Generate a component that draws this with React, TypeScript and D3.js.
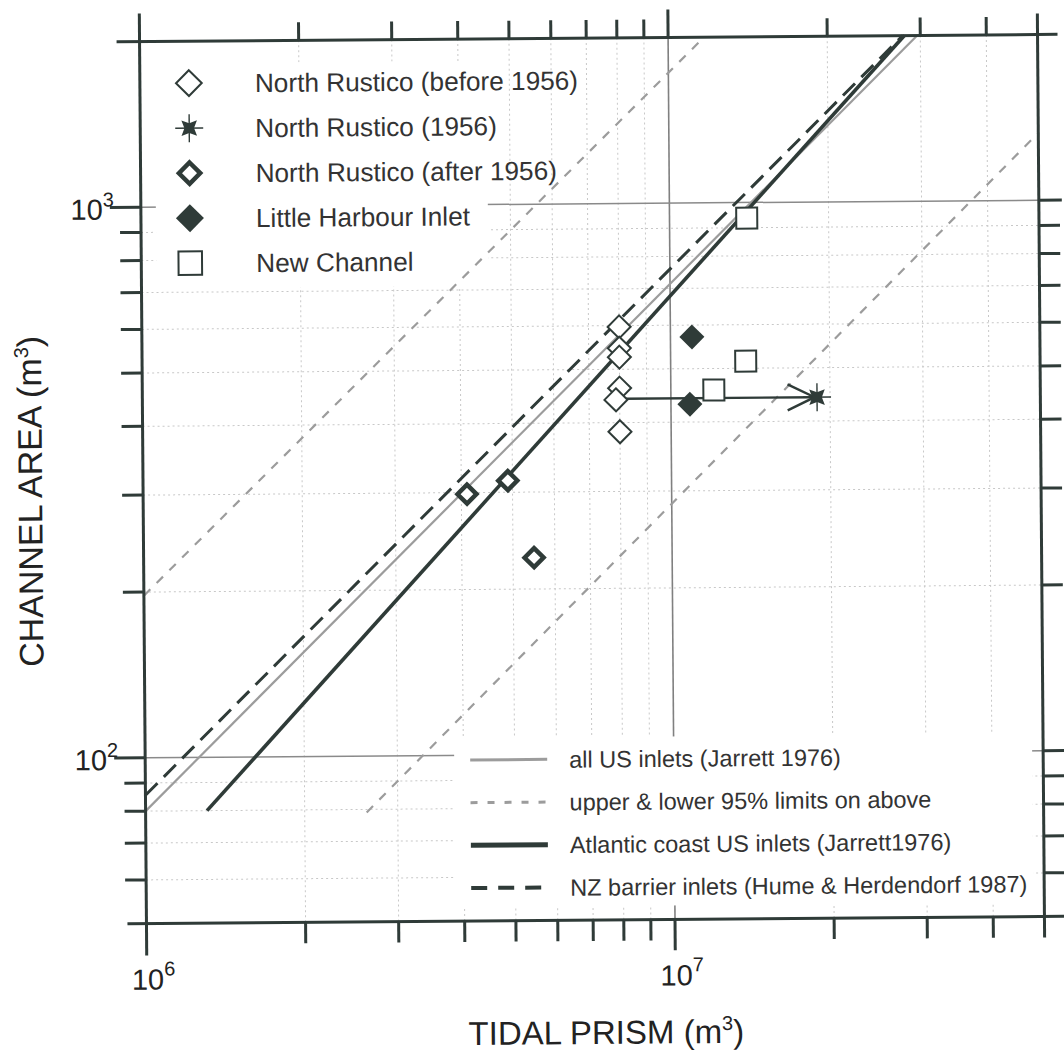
import React from 'react';
import * as d3 from 'd3';

// ---- data (tidal prism m3, channel area m2) ----
const beforeP = [8.0e6, 8.0e6, 8.0e6, 8.0e6, 7.87e6, 8.0e6];
const beforeA = [597, 546, 526, 462, 440, 385];
const in1956P = [1.89e7];
const in1956A = [442];
const afterP = [4.1e6, 4.9e6, 5.48e6];
const afterA = [298, 315, 228];
const littleP = [1.098e7, 1.086e7];
const littleA = [571, 431];
const newChP = [1.4e7, 1.387e7, 1.206e7];
const newChA = [937, 515, 457];
const arrowP = [8.18e6, 1.87e7];
const arrowA = [442, 442];

// fitted relations, end points as drawn
const allUSP = [1e6, 2.96e7];
const allUSA = [80, 2000];
const upperP = [1e6, 1.17e7];
const upperA = [197, 2000];
const lowerP = [2.62e6, 5e7];
const lowerA = [79, 1325];
const atlP = [1.307e6, 2.8e7];
const atlA = [80, 2000];
const nzP = [1e6, 2.78e7];
const nzA = [85.5, 2000];

// axes
const xMajorTicks = [1e6, 1e7];
const xTickExp = ['6', '7'];
const xMinorTicks = [2e6, 3e6, 4e6, 5e6, 6e6, 7e6, 8e6, 9e6, 2e7, 3e7, 4e7];
const yMajorTicks = [1e2, 1e3];
const yTickExp = ['2', '3'];
const yMinorTicks = [60, 70, 80, 90, 200, 300, 400, 500, 600, 700, 800, 900];

const markerNames = [
  'North Rustico (before 1956)',
  'North Rustico (1956)',
  'North Rustico (after 1956)',
  'Little Harbour Inlet',
  'New Channel',
];
const lineNames = [
  'all US inlets (Jarrett 1976)',
  'upper & lower 95% limits on above',
  'Atlantic coast US inlets (Jarrett1976)',
  'NZ barrier inlets (Hume & Herdendorf 1987)',
];

const W = 1064;
const H = 1063;
const frame = { left: 143, right: 1041, top: 38, bottom: 920 };
const DARK = '#2f3b38';
const GRAY = '#9c9c9c';
const FONT = '"Liberation Sans", Arial, Helvetica, sans-serif';

const diamond = (r: number) => `M0,${-r}L${r},0L0,${r}L${-r},0Z`;

// filled four point star with a thin cross through it
const Star = ({ cx, cy }: { cx: number; cy: number }) => {
  const pts: string[] = [];
  for (let i = 0; i < 8; i++) {
    const a = Math.PI / 4 + (i * Math.PI) / 4;
    const r = i % 2 === 0 ? 11 : 4.8;
    pts.push(`${cx + r * Math.cos(a)},${cy + r * Math.sin(a)}`);
  }
  return (
    <g>
      <line x1={cx - 14} x2={cx + 14} y1={cy} y2={cy} stroke={DARK} strokeWidth={1.4} />
      <line x1={cx} x2={cx} y1={cy - 14} y2={cy + 14} stroke={DARK} strokeWidth={1.4} />
      <polygon points={pts.join(' ')} fill={DARK} />
    </g>
  );
};

const Marker = ({ kind, cx, cy, big }: { kind: number; cx: number; cy: number; big?: boolean }) => {
  const s = big ? 1.12 : 1;
  if (kind === 0)
    return <path d={diamond(11.5 * s)} transform={`translate(${cx},${cy})`} fill="white" stroke={DARK} strokeWidth={2} />;
  if (kind === 1) return <Star cx={cx} cy={cy} />;
  if (kind === 2)
    return <path d={diamond(9.5 * s)} transform={`translate(${cx},${cy})`} fill="white" stroke={DARK} strokeWidth={4.5} />;
  if (kind === 3)
    return <path d={diamond(12.5 * s)} transform={`translate(${cx},${cy})`} fill={DARK} stroke="none" />;
  const h = 10.5 * s;
  return <rect x={cx - h} y={cy - h} width={2 * h} height={2 * h} fill="white" stroke={DARK} strokeWidth={2} />;
};

export default function App() {
  const x = d3.scaleLog().domain([1e6, 5e7]).range([frame.left, frame.right]);
  const y = d3.scaleLog().domain([50, 2000]).range([frame.bottom, frame.top]);
  const line = (ps: number[], as: number[]) =>
    d3.line<number>().x((d) => x(ps[d])).y((d) => y(as[d]))(ps.map((_, i) => i)) || '';

  const series = [
    { kind: 0, P: beforeP, A: beforeA },
    { kind: 2, P: afterP, A: afterA },
    { kind: 3, P: littleP, A: littleA },
    { kind: 4, P: newChP, A: newChA },
    { kind: 1, P: in1956P, A: in1956A },
  ];

  const fits = [
    { P: allUSP, A: allUSA, stroke: GRAY, w: 2.2, dash: undefined as string | undefined },
    { P: upperP, A: upperA, stroke: GRAY, w: 2.2, dash: '9 9' },
    { P: lowerP, A: lowerA, stroke: GRAY, w: 2.2, dash: '9 9' },
    { P: nzP, A: nzA, stroke: DARK, w: 3, dash: '17 9' },
    { P: atlP, A: atlA, stroke: DARK, w: 3.6, dash: undefined },
  ];

  const legendLines = [
    { stroke: GRAY, w: 3, dash: undefined as string | undefined },
    { stroke: GRAY, w: 3, dash: '7 10' },
    { stroke: DARK, w: 5, dash: undefined },
    { stroke: DARK, w: 4, dash: '16 11' },
  ];

  const ax = x(arrowP[1]);
  const ay = y(arrowA[1]);

  return (
    <svg width={W} height={H} style={{ position: 'absolute', left: 0, top: 0, background: 'white' }} fontFamily={FONT}>
      <g transform="rotate(-0.45 592 480)">
        {/* grid */}
        {xMinorTicks.map((t) => (
          <line key={'gx' + t} x1={x(t)} x2={x(t)} y1={frame.top} y2={frame.bottom} stroke="#c8c8c8" strokeWidth={1} strokeDasharray="2 3" />
        ))}
        {yMinorTicks.map((t) => (
          <line key={'gy' + t} x1={frame.left} x2={frame.right} y1={y(t)} y2={y(t)} stroke="#c8c8c8" strokeWidth={1} strokeDasharray="2 3" />
        ))}
        <line x1={x(1e7)} x2={x(1e7)} y1={frame.top} y2={frame.bottom} stroke="#808080" strokeWidth={1.6} />
        {yMajorTicks.map((t) => (
          <line key={'gY' + t} x1={frame.left} x2={frame.right} y1={y(t)} y2={y(t)} stroke="#8a8a8a" strokeWidth={1.5} />
        ))}

        {/* legend backgrounds */}
        <rect x={158} y={60} width={332} height={225} fill="white" />
        <rect x={452} y={737} width={578} height={169} fill="white" />

        {/* fitted lines */}
        {fits.map((f, i) => (
          <path key={'f' + i} d={line(f.P, f.A)} fill="none" stroke={f.stroke} strokeWidth={f.w} strokeDasharray={f.dash} />
        ))}

        {/* arrow from pre-1956 to 1956 */}
        <line x1={x(arrowP[0])} x2={ax} y1={y(arrowA[0])} y2={ay} stroke={DARK} strokeWidth={2.4} />
        <polyline points={`${ax - 27},${ay - 13} ${ax},${ay} ${ax - 27},${ay + 13}`} fill="none" stroke={DARK} strokeWidth={2.4} />

        {/* data */}
        {series.map((s) =>
          s.P.map((p, i) => <Marker key={`m${s.kind}-${i}`} kind={s.kind} cx={x(p)} cy={y(s.A[i])} />)
        )}

        {/* top-left legend */}
        {markerNames.map((name, i) => (
          <g key={'lm' + i}>
            <Marker kind={i} cx={192} cy={80 + i * 45} big />
            <text x={258} y={80 + i * 45} dy="0.36em" fontSize={26.2} fill="#333">
              {name}
            </text>
          </g>
        ))}

        {/* bottom-right legend */}
        {lineNames.map((name, i) => (
          <g key={'ll' + i}>
            <line x1={468} x2={545} y1={759 + i * 42.7} y2={759 + i * 42.7} stroke={legendLines[i].stroke} strokeWidth={legendLines[i].w} strokeDasharray={legendLines[i].dash} />
            <text x={567} y={759 + i * 42.7} dy="0.36em" fontSize={23.5} fill="#333">
              {name}
            </text>
          </g>
        ))}

        {/* frame, extended past corners like ticks */}
        <g stroke={DARK} strokeWidth={3}>
          <line x1={frame.left - 23} x2={frame.right + 20} y1={frame.top} y2={frame.top} />
          <line x1={frame.left - 19} x2={frame.right + 23} y1={frame.bottom} y2={frame.bottom} />
          <line x1={frame.left} x2={frame.left} y1={frame.top - 28} y2={frame.bottom + 32} />
          <line x1={frame.right} x2={frame.right} y1={frame.top - 21} y2={frame.bottom + 21} />
          {xMinorTicks.map((t) => (
            <g key={'tx' + t}>
              <line x1={x(t)} x2={x(t)} y1={frame.top} y2={frame.top - 18} />
              <line x1={x(t)} x2={x(t)} y1={frame.bottom} y2={frame.bottom + 21} />
            </g>
          ))}
          <line x1={x(1e7)} x2={x(1e7)} y1={frame.top} y2={frame.top - 28} />
          <line x1={x(1e7)} x2={x(1e7)} y1={frame.bottom} y2={frame.bottom + 31} />
          {yMinorTicks.map((t) => (
            <g key={'ty' + t}>
              <line x1={frame.left} x2={frame.left - 21} y1={y(t)} y2={y(t)} />
              <line x1={frame.right} x2={frame.right + 21} y1={y(t)} y2={y(t)} />
            </g>
          ))}
          {yMajorTicks.map((t) => (
            <g key={'tY' + t}>
              <line x1={frame.left} x2={frame.left - 31} y1={y(t)} y2={y(t)} />
              <line x1={frame.right} x2={frame.right + 23} y1={y(t)} y2={y(t)} />
            </g>
          ))}
        </g>

        {/* tick labels */}
        {xMajorTicks.map((t, i) => (
          <text key={'lx' + t} x={x(t) - 15} y={frame.bottom + 66} fontSize={29} fill="#222">
            10<tspan dy={-14} fontSize={20}>{xTickExp[i]}</tspan>
          </text>
        ))}
        {yMajorTicks.map((t, i) => (
          <text key={'ly' + t} x={frame.left - 27} y={y(t) + 12} fontSize={29} fill="#222" textAnchor="end">
            10<tspan dy={-13} fontSize={20}>{yTickExp[i]}</tspan>
          </text>
        ))}

        {/* axis titles */}
        <text x={602} y={1044} fontSize={33} fill="#222" textAnchor="middle">
          TIDAL PRISM (m<tspan dy={-13} fontSize={20}>3</tspan><tspan dy={13}>)</tspan>
        </text>
        <text transform="translate(42,497) rotate(-90)" fontSize={34} fill="#222" textAnchor="middle">
          CHANNEL AREA (m<tspan dy={-13} fontSize={20}>3</tspan><tspan dy={13}>)</tspan>
        </text>
      </g>
    </svg>
  );
}
